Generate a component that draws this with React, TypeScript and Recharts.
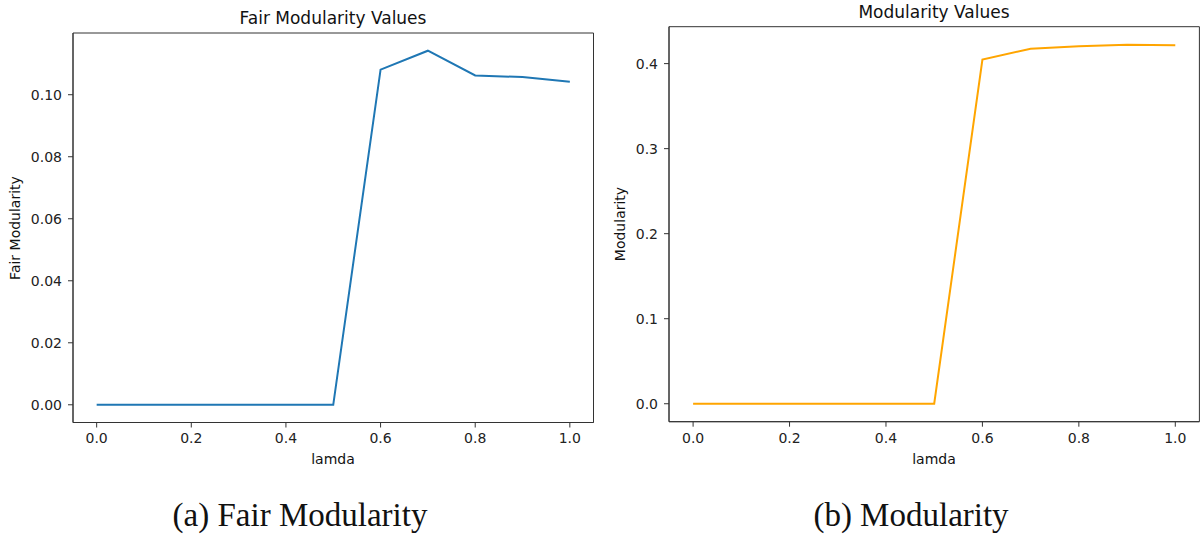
import React from 'react';
import { LineChart, Line, XAxis, YAxis, ReferenceArea } from 'recharts';

const lamda = [0, 0.1, 0.2, 0.3, 0.4, 0.5, 0.6, 0.7, 0.8, 0.9, 1.0];
const fairModularity = [0, 0, 0, 0, 0, 0, 0.1081, 0.1142, 0.1062, 0.1057, 0.1042];
const modularity = [0, 0, 0, 0, 0, 0, 0.4047, 0.4176, 0.4204, 0.4223, 0.4216];

const xTicks = [0, 0.2, 0.4, 0.6, 0.8, 1.0];
const fairTicks = [0, 0.02, 0.04, 0.06, 0.08, 0.1];
const modTicks = [0, 0.1, 0.2, 0.3, 0.4];

const xDomain: [number, number] = [-0.05, 1.05];
const fairDomain: [number, number] = [-0.00571, 0.11991];
const modDomain: [number, number] = [-0.02112, 0.44342];

const fairData = lamda.map((l, i) => ({ lamda: l, value: fairModularity[i] }));
const modData = lamda.map((l, i) => ({ lamda: l, value: modularity[i] }));

const FONT = '"DejaVu Sans", sans-serif';
const AXIS = '#333';
const tickStyle = { fill: '#222', fontSize: 14, fontFamily: FONT };

function Panel(props: {
  data: { lamda: number; value: number }[];
  yDomain: [number, number];
  yTicks: number[];
  digits: number;
  color: string;
  yWidth: number;
  margin: { top: number; right: number; bottom: number; left: number };
}) {
  const { data, yDomain, yTicks, digits, color, yWidth, margin } = props;
  return (
    <LineChart width={600} height={480} data={data} margin={margin}>
      <ReferenceArea
        x1={xDomain[0]}
        x2={xDomain[1]}
        y1={yDomain[0]}
        y2={yDomain[1]}
        fill="none"
        fillOpacity={0}
        stroke={AXIS}
        strokeWidth={1}
        ifOverflow="visible"
      />
      <XAxis
        dataKey="lamda"
        type="number"
        domain={xDomain}
        ticks={xTicks}
        tickFormatter={(v: number) => v.toFixed(1)}
        height={30}
        tickSize={5}
        tickMargin={6}
        stroke={AXIS}
        tick={tickStyle}
        interval={0}
        allowDataOverflow
      />
      <YAxis
        type="number"
        domain={yDomain}
        ticks={yTicks}
        tickFormatter={(v: number) => v.toFixed(digits)}
        width={yWidth}
        tickSize={5}
        tickMargin={6}
        stroke={AXIS}
        tick={tickStyle}
        interval={0}
        allowDataOverflow
      />
      <Line
        type="linear"
        dataKey="value"
        stroke={color}
        strokeWidth={2}
        dot={false}
        isAnimationActive={false}
      />
    </LineChart>
  );
}

export default function App() {
  return (
    <div style={{ position: 'absolute', left: 0, top: 0, width: 1200, height: 539, background: '#fff', overflow: 'hidden' }}>
      <div style={{ position: 'absolute', left: 0, top: 0 }}>
        <Panel
          data={fairData}
          yDomain={fairDomain}
          yTicks={fairTicks}
          digits={2}
          color="#1f77b4"
          yWidth={73}
          margin={{ top: 33, right: 6.5, bottom: 27.5, left: 0 }}
        />
      </div>
      <div style={{ position: 'absolute', left: 600, top: 0 }}>
        <Panel
          data={modData}
          yDomain={modDomain}
          yTicks={modTicks}
          digits={1}
          color="#ffa500"
          yWidth={69}
          margin={{ top: 26.7, right: 0.6, bottom: 28.3, left: 0 }}
        />
      </div>
      <svg width={1200} height={539} style={{ position: 'absolute', left: 0, top: 0, pointerEvents: 'none' }}>
        <g fontFamily={FONT} fill="#111">
          <text x={333} y={24} textAnchor="middle" fontSize={17}>Fair Modularity Values</text>
          <text x={934} y={17.5} textAnchor="middle" fontSize={17}>Modularity Values</text>
          <text x={333} y={464} textAnchor="middle" fontSize={14}>lamda</text>
          <text x={934} y={464} textAnchor="middle" fontSize={14}>lamda</text>
          <text x={20} y={228} textAnchor="middle" fontSize={14} transform="rotate(-90, 20, 228)">Fair Modularity</text>
          <text x={625} y={224} textAnchor="middle" fontSize={14} transform="rotate(-90, 625, 224)">Modularity</text>
        </g>
        <g fontFamily='"Liberation Serif", "Times New Roman", serif' fill="#111" fontSize={33}>
          <text x={300} y={526} textAnchor="middle">(a) Fair Modularity</text>
          <text x={911} y={526} textAnchor="middle">(b) Modularity</text>
        </g>
      </svg>
    </div>
  );
}
